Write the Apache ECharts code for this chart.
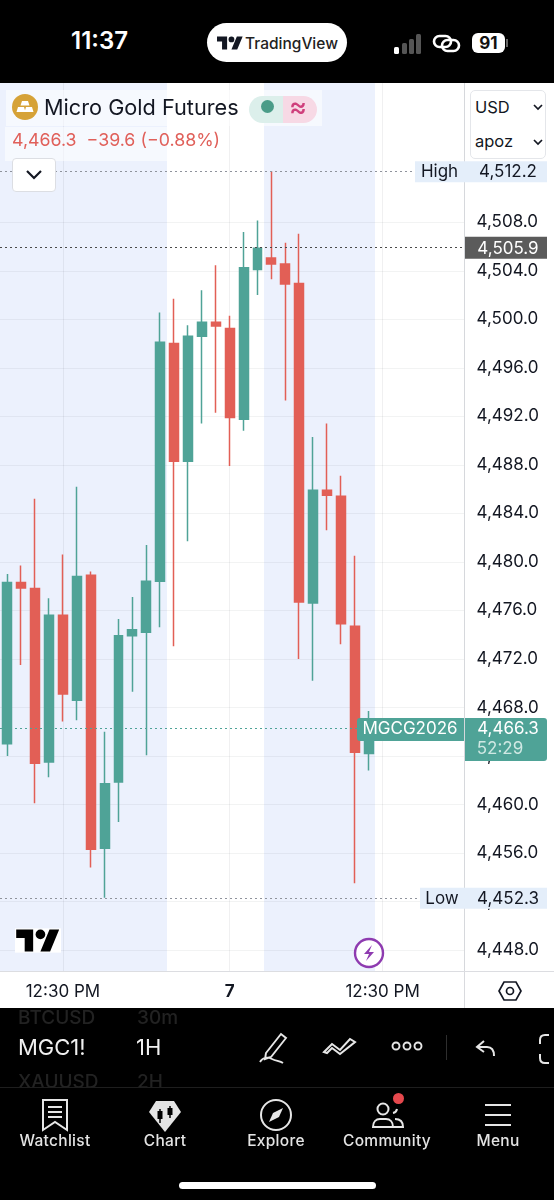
<!DOCTYPE html>
<html>
<head>
<meta charset="utf-8">
<title>MGC1! 1H</title>
<script src="https://cdn.jsdelivr.net/npm/echarts@6/dist/echarts.min.js"></script>
<style>
  html, body { margin: 0; padding: 0; background: #fff; }
  body { width: 554px; height: 1200px; position: relative; overflow: hidden; font-family: Inter, Roboto, sans-serif; }
  #chart { position: absolute; left: 0; top: 0; width: 554px; height: 1200px; }
  .abs { position: absolute; white-space: nowrap; }
  .black { position: absolute; left: 0; width: 554px; background: #000; }
  .tab { position: absolute; top: 1131px; width: 110px; text-align: center; color: #e4e4e4; font-size: 15.5px; font-weight: 500; letter-spacing: .3px; }
  svg { position: absolute; overflow: visible; }
</style>
</head>
<body>
<div id="chart"></div>

<!-- phone status bar -->
<div class="black" style="top:0;height:83px"></div>
<div class="abs" style="left:71px;top:26px;color:#fff;font-size:24px;font-weight:600">11:37</div>
<div class="abs" style="left:207px;top:23px;width:140px;height:39px;border-radius:20px;background:#fff"></div>
<svg style="left:217px;top:36px" width="26" height="14" viewBox="0 4 36 18"><path d="M14 22H7V11H0V4h14v18zM28 22h-8l7.5-18h8L28 22z" fill="#131722"/><circle cx="20" cy="8" r="4" fill="#131722"/></svg>
<div class="abs" style="left:245px;top:34px;color:#222;font-size:15.5px;font-weight:500">TradingView</div>
<svg style="left:394px;top:34px" width="28" height="20"><rect x="0" y="13" width="5" height="7" rx="1.5" fill="#fff"/><rect x="8" y="9" width="5" height="11" rx="1.5" fill="#555"/><rect x="15" y="5" width="5" height="15" rx="1.5" fill="#555"/><rect x="22" y="0" width="5" height="20" rx="1.5" fill="#555"/></svg>
<svg style="left:433px;top:33px" width="28" height="20" fill="none" stroke="#fff" stroke-width="2.6"><rect x="1" y="3" width="17" height="11" rx="5.5"/><rect x="9" y="7" width="17" height="11" rx="5.5"/></svg>
<div class="abs" style="left:472px;top:33px;width:33px;height:20px;border-radius:6px;background:#fff;color:#111;font-size:17px;font-weight:700;text-align:center;line-height:20px">91</div>
<div class="abs" style="left:506px;top:39px;width:2px;height:8px;background:#666"></div>

<!-- legend -->
<div class="abs" style="left:6px;top:90px;width:316px;height:36px;background:rgba(255,255,255,.55)"></div>
<div class="abs" style="left:5px;top:127px;width:224px;height:34px;background:rgba(255,255,255,.55)"></div>
<svg style="left:12px;top:94px" width="26" height="26"><circle cx="13" cy="13" r="13" fill="#d6a237"/><path d="M10 7h6l1.5 4.500h-9zM6 13h6l1.500 5h-9zM14 13h6l1.500 5h-9z" fill="#fff"/></svg>
<div class="abs" style="left:44px;top:94px;color:#131722;font-size:21.7px">Micro Gold Futures</div>
<div class="abs" style="left:249px;top:96px;width:34px;height:27px;border-radius:14px 0 0 14px;background:#dcefeb"></div>
<div class="abs" style="left:283px;top:96px;width:34px;height:27px;border-radius:0 14px 14px 0;background:#f7d9e5"></div>
<div class="abs" style="left:261px;top:100px;width:13px;height:13px;border-radius:50%;background:#4a9c88"></div>
<div class="abs" style="left:289px;top:90px;color:#cf3f7c;font-size:27px;font-weight:500">≈</div>
<div class="abs" style="left:12px;top:129px;color:#e0605a;font-size:17.8px">4,466.3&nbsp;&nbsp;−39.6 (−0.88%)</div>
<div class="abs" style="left:12px;top:158px;width:42px;height:32px;background:#fff;border:1px solid #dcdee3;border-radius:4px"></div>
<svg style="left:25px;top:169px" width="18" height="12" fill="none" stroke="#131722" stroke-width="2.2"><path d="M2 2l7 7 7-7"/></svg>
<div class="abs" style="left:470px;top:90px;width:74px;height:67px;background:#fff;border:1px solid #e4e6ea;border-radius:5px"></div>
<div class="abs" style="left:475px;top:97px;color:#131722;font-size:16.5px">USD</div>
<div class="abs" style="left:475px;top:131px;color:#131722;font-size:16.5px">apoz</div>
<svg style="left:533px;top:104px" width="10" height="8" fill="none" stroke="#131722" stroke-width="1.7"><path d="M1 1l4 4 4-4"/></svg>
<svg style="left:533px;top:139px" width="10" height="8" fill="none" stroke="#131722" stroke-width="1.7"><path d="M1 1l4 4 4-4"/></svg>

<!-- watermark and chart buttons -->
<svg style="left:15px;top:928px" width="46" height="25" viewBox="-1 3 38 20"><rect x="-1" y="3" width="38" height="20" fill="#fff"/><path d="M14 22H7V11H0V4h14v18zM28 22h-8l7.5-18h8L28 22z" fill="#000"/><circle cx="20" cy="8" r="4" fill="#000"/></svg>
<svg style="left:354px;top:938px" width="30" height="30"><circle cx="15" cy="15" r="14" fill="#fff" stroke="#8e3bb0" stroke-width="2.4"/><path d="M18 7l-8 9h5l-3 7 8-9h-5z" fill="#8e3bb0"/></svg>
<svg style="left:498px;top:980px" width="24" height="22" fill="none" stroke="#131722" stroke-width="1.7"><path d="M6 2h12l5 9-5 9H6l-5-9z"/><circle cx="12" cy="11" r="3.500"/></svg>
<div class="abs" style="left:464px;top:971px;width:1px;height:37px;background:#d9dade"></div>
<div class="abs" style="left:0;top:971px;width:554px;height:1px;background:#dcdde1"></div>

<!-- bottom toolbar -->
<div class="black" style="top:1008px;height:192px"></div>
<div class="abs" style="left:18px;top:1006px;color:#222;font-size:19px;font-weight:500">BTCUSD</div>
<div class="abs" style="left:137px;top:1006px;color:#222;font-size:19px;font-weight:500">30m</div>
<div class="abs" style="left:18px;top:1034px;color:#f0f0f0;font-size:22px">MGC1!</div>
<div class="abs" style="left:136px;top:1034px;color:#f0f0f0;font-size:22px">1H</div>
<div class="abs" style="left:18px;top:1070px;color:#222;font-size:19px;font-weight:500;height:17px;overflow:hidden">XAUUSD</div>
<div class="abs" style="left:137px;top:1070px;color:#222;font-size:19px;font-weight:500;height:17px;overflow:hidden">2H</div>
<svg style="left:258px;top:1032px" width="32" height="34" fill="none" stroke="#e6e6e6" stroke-width="1.9"><path d="M8 21L23 2l5 4-15 19-6 2zM2 30c3-5 8-5 12-3s8 2 11 4"/></svg>
<svg style="left:323px;top:1035px" width="34" height="22" fill="none" stroke="#e6e6e6" stroke-width="2"><path d="M1 17l8-8 8 6 10-11 5 3-15 12-8-6-5 5z"/></svg>
<svg style="left:391px;top:1040px" width="32" height="12" fill="none" stroke="#e6e6e6" stroke-width="1.9"><circle cx="5" cy="6" r="3.500"/><circle cx="16" cy="6" r="3.500"/><circle cx="27" cy="6" r="3.500"/></svg>
<div class="abs" style="left:446px;top:1035px;width:1px;height:25px;background:#2e2e2e"></div>
<svg style="left:476px;top:1040px" width="20" height="18" fill="none" stroke="#e6e6e6" stroke-width="2"><path d="M8 1L1 7l7 5M1 7h10c5 0 7 3 7 9"/></svg>
<svg style="left:539px;top:1034px" width="15" height="30" fill="none" stroke="#e6e6e6" stroke-width="2"><path d="M10 1H6Q1 1 1 6v4M10 29H6Q1 29 1 24v-4"/></svg>
<div class="abs" style="left:0;top:1087px;width:554px;height:1px;background:#1e1e1e"></div>

<!-- tab bar -->
<svg style="left:42px;top:1099px" width="26" height="32" fill="none" stroke="#e6e6e6" stroke-width="2"><path d="M1 1h24v30l-12-8-12 8zM6 8h14M6 13h14M6 18h14"/></svg>
<svg style="left:149px;top:1100px" width="32" height="32"><path d="M7 1h18l7 11-16 20L0 12z" fill="#e4e4e4"/><path d="M11 9v14M21 6v12" stroke="#000" stroke-width="1.500"/><rect x="8.500" y="11" width="5" height="8" fill="#000"/><rect x="18.500" y="8" width="5" height="7" fill="#000"/></svg>
<svg style="left:260px;top:1099px" width="32" height="32" fill="none" stroke="#e6e6e6" stroke-width="2"><circle cx="16" cy="16" r="15"/><path d="M23 9l-10 5-4 9 10-5z" fill="#e6e6e6" stroke="none"/></svg>
<svg style="left:371px;top:1099px" width="34" height="32" fill="none" stroke="#e6e6e6" stroke-width="2"><circle cx="12" cy="10" r="5.500"/><path d="M2 28c0-5 3-8 7-8h6c4 0 7 3 7 8zM22 14a5 5 0 0 0 4-4M24 20c5 0 8 3 8 8h-10"/></svg>
<div class="abs" style="left:393px;top:1093px;width:11px;height:11px;border-radius:50%;background:#e5484d"></div>
<svg style="left:485px;top:1104px" width="26" height="22" stroke="#e6e6e6" stroke-width="2"><path d="M0 1h26M0 11h26M0 21h26"/></svg>
<div class="tab" style="left:0">Watchlist</div>
<div class="tab" style="left:110px">Chart</div>
<div class="tab" style="left:221px">Explore</div>
<div class="tab" style="left:332px">Community</div>
<div class="tab" style="left:443px">Menu</div>
<div class="abs" style="left:179px;top:1182px;width:197px;height:7px;border-radius:4px;background:#fff"></div>

<script>
// price scale visible in the screenshot
const priceMin = 4446.27
const priceMax = 4519.48
const priceTicks = [4448, 4452, 4456, 4460, 4464, 4468, 4472, 4476, 4480, 4484, 4488, 4492, 4496, 4500, 4504, 4508]

// hourly candles, oldest first
const opens = [4465.0, 4478.3, 4477.8, 4463.5, 4475.6, 4468.6, 4478.9, 4456.4, 4461.85, 4473.9, 4474.2, 4478.4, 4498.0, 4488.3, 4498.6, 4499.75, 4499.25, 4491.75, 4504.1, 4505.05, 4504.55, 4502.95, 4476.6, 4485.9, 4485.4, 4474.7, 4464.2]
const closes = [4478.3, 4477.85, 4463.4, 4475.6, 4469.1, 4478.8, 4456.3, 4461.7, 4473.9, 4474.4, 4478.4, 4498.1, 4488.3, 4498.6, 4499.75, 4499.45, 4491.9, 4504.25, 4505.85, 4504.55, 4502.9, 4476.7, 4485.9, 4485.5, 4474.9, 4464.3, 4466.3]
const lows = [4464.0, 4471.5, 4460.1, 4462.25, 4466.85, 4466.95, 4454.8, 4452.3, 4458.55, 4469.3, 4464.05, 4474.6, 4473.05, 4481.7, 4491.4, 4492.3, 4487.9, 4490.8, 4502.0, 4503.3, 4493.3, 4472.0, 4470.2, 4482.6, 4473.2, 4453.5, 4462.8]
const highs = [4479.0, 4479.7, 4485.2, 4477.0, 4480.6, 4486.2, 4479.2, 4466.0, 4475.3, 4477.1, 4481.4, 4500.55, 4501.7, 4499.5, 4502.4, 4504.45, 4500.3, 4507.2, 4508.15, 4512.2, 4506.3, 4507.05, 4490.3, 4491.4, 4487.1, 4480.5, 4467.7]

// time axis, in bar numbers
const barMin = -0.525
const barMax = 32.89
const timeTickBars = [4, 16, 27]
const timeTickLabels = ['12:30 PM', '7', '12:30 PM']

// out of hours sessions, in bar numbers
const sessionStarts = [-0.525, 18.47]
const sessionEnds = [11.49, 26.45]

// price tags on the axis
const tagNames = ['High', 'Low', '', 'MGCG2026']
const tagPrices = [4512.2, 4452.3, 4505.9, 4466.3]
const countdown = '52:29'

const upColor = '#4fa397'
const downColor = '#e25f56'
const fontFamily = 'Inter, Roboto, sans-serif'

function money(v) {
  return v.toLocaleString('en-US', { minimumFractionDigits: 1, maximumFractionDigits: 1 })
}

function renderSession(params, api) {
  const a = api.coord([api.value(0), priceMax])
  const b = api.coord([api.value(1), priceMin])
  return { type: 'rect', shape: { x: a[0], y: a[1], width: b[0] - a[0], height: b[1] - a[1] }, style: { fill: '#ecf1fd' } }
}

function text(str, x, y, fill) {
  return { type: 'text', style: { text: str, x, y, fill, font: '400 17px ' + fontFamily, align: 'center', verticalAlign: 'middle' } }
}

function renderTag(params, api) {
  const price = api.value(0)
  const y = api.coord([0, price])[1]
  const i = params.dataIndex
  const label = money(price)
  if (i < 2) {
    const left = i === 0 ? 415 : 420
    return {
      type: 'group',
      children: [
        { type: 'rect', shape: { x: left, y: y - 10, width: 547 - left, height: 21 }, style: { fill: '#e4eefa' } },
        text(tagNames[i], (left + 464) / 2, y + 1, '#131722'),
        text(label, 508, y + 1, '#131722')
      ]
    }
  }
  if (i === 2) {
    return {
      type: 'group',
      children: [
        { type: 'rect', shape: { x: 465, y: y - 11, width: 82, height: 22 }, style: { fill: '#5b5b5b' } },
        text(label, 508, y + 1, '#fff')
      ]
    }
  }
  return {
    type: 'group',
    children: [
      { type: 'rect', shape: { x: 357, y: y - 10, width: 107, height: 23, r: [3, 0, 0, 3] }, style: { fill: upColor } },
      { type: 'rect', shape: { x: 465, y: y - 10, width: 82, height: 43, r: [0, 3, 3, 0] }, style: { fill: upColor } },
      text(tagNames[i], 410, y + 1, '#fff'),
      text(label, 508, y + 1, '#fff'),
      text(countdown, 500, y + 21, '#cfe8e3')
    ]
  }
}

const chart = echarts.init(document.getElementById('chart'))

const dotted = (value, color) => ({ yAxis: value, lineStyle: { color, type: [2, 3], width: 1 } })

chart.setOption({
  animation: false,
  textStyle: { fontFamily },
  grid: { left: 0, top: 83, width: 464.5, height: 888, containLabel: false },
  xAxis: {
    type: 'value',
    min: barMin,
    max: barMax,
    axisLine: { show: false },
    axisTick: { show: false, customValues: timeTickBars },
    splitLine: { show: true, lineStyle: { color: 'rgba(42,46,57,0.07)', width: 1 } },
    axisLabel: {
      customValues: timeTickBars,
      showMinLabel: true,
      showMaxLabel: true,
      margin: 12,
      color: '#131722',
      fontSize: 17,
      formatter: v => {
        const label = timeTickLabels[timeTickBars.indexOf(v)]
        return label === '7' ? '{day|7}' : label
      },
      rich: { day: { fontWeight: 700, fontSize: 17, color: '#131722' } }
    }
  },
  yAxis: {
    type: 'value',
    position: 'right',
    min: priceMin,
    max: priceMax,
    axisLine: { show: true, onZero: false, lineStyle: { color: '#d6d8dc', width: 1 } },
    axisTick: { show: false, customValues: priceTicks },
    splitLine: { show: true, lineStyle: { color: 'rgba(42,46,57,0.06)', width: 1 } },
    axisLabel: {
      customValues: priceTicks,
      margin: 12,
      color: '#131722',
      fontSize: 17,
      formatter: money
    }
  },
  series: [
    {
      type: 'custom',
      z: -1,
      silent: true,
      renderItem: renderSession,
      encode: { x: [0, 1] },
      data: sessionStarts.map((s, i) => [s, sessionEnds[i]])
    },
    {
      type: 'candlestick',
      clip: false,
      barWidth: 9.4,
      encode: { x: 0, y: [1, 2, 3, 4] },
      itemStyle: { color: upColor, borderColor: upColor, color0: downColor, borderColor0: downColor, borderWidth: 1.5 },
      data: opens.map((o, i) => [i, o, closes[i], lows[i], highs[i]]),
      markLine: {
        silent: true,
        symbol: 'none',
        label: { show: false },
        data: [
          dotted(tagPrices[0], '#8f939c'),
          dotted(tagPrices[1], '#8f939c'),
          dotted(tagPrices[2], '#4a4a4a'),
          dotted(tagPrices[3], upColor)
        ]
      }
    },
    {
      type: 'custom',
      z: 10,
      silent: true,
      renderItem: renderTag,
      encode: { y: 0 },
      data: tagPrices.map(p => [p])
    }
  ]
})
</script>
</body>
</html>
